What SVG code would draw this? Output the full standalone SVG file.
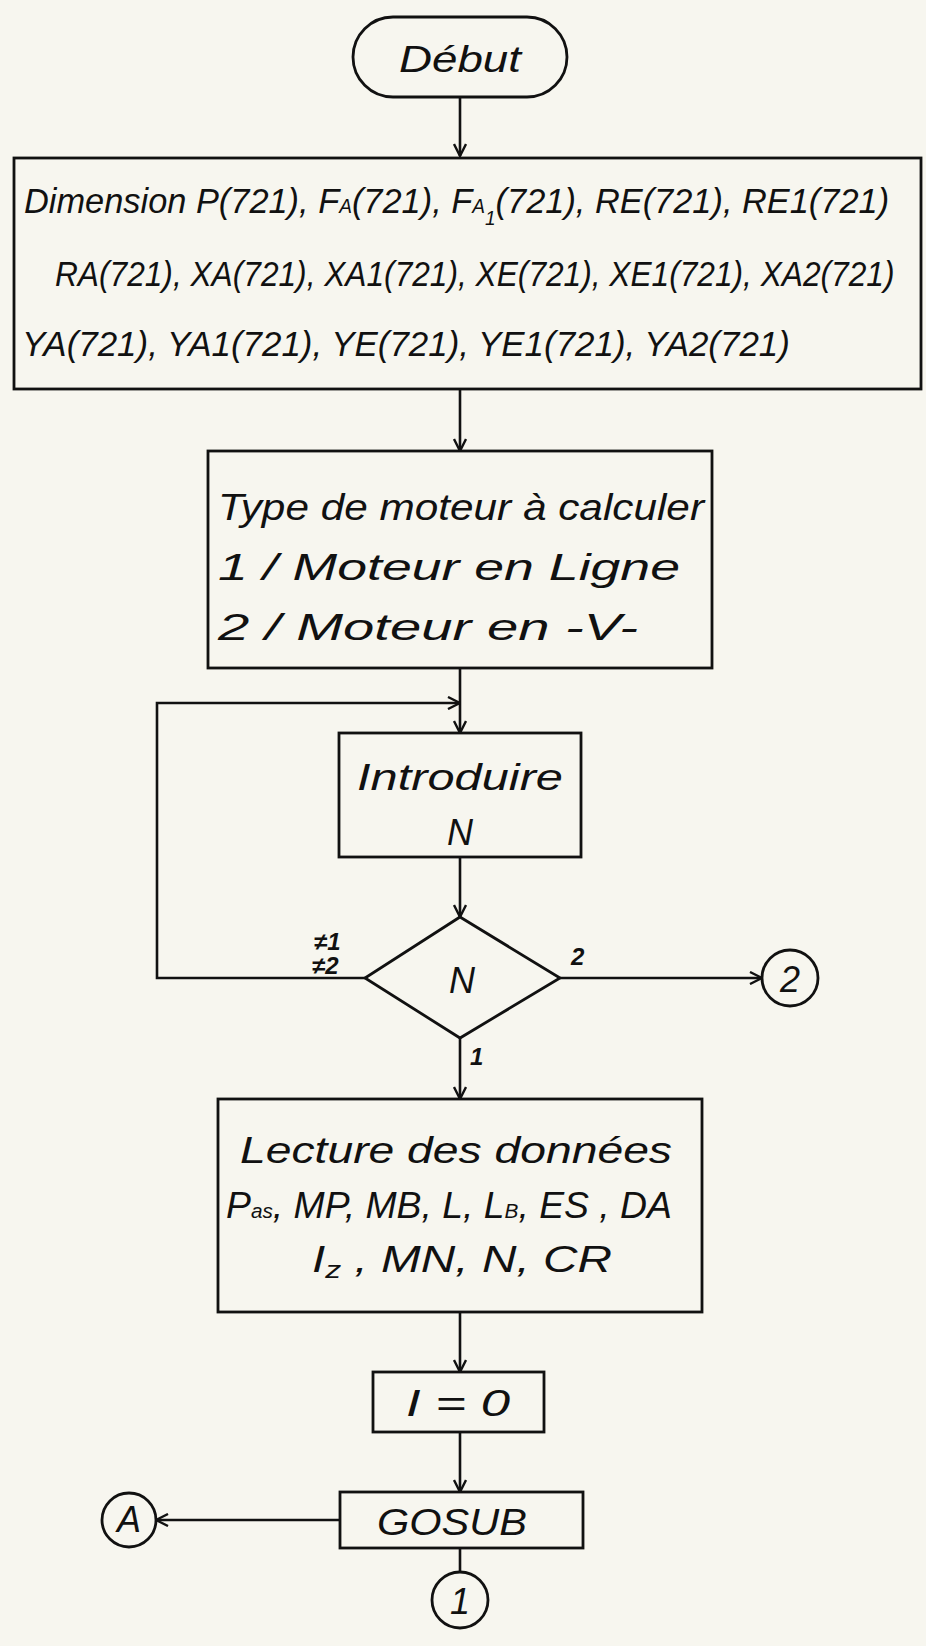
<svg xmlns="http://www.w3.org/2000/svg" width="926" height="1646" viewBox="0 0 926 1646">
<style>
.s{fill:none;stroke:#111;stroke-width:2.6}
.b{fill:none;stroke:#111;stroke-width:2.8}
.t{font-family:"Liberation Sans",Arial,sans-serif;font-style:italic;fill:#111;font-size:36px}
.c{text-anchor:middle}
.sub{font-size:20px}
.lbl{font-family:"Liberation Sans",Arial,sans-serif;font-style:italic;font-weight:bold;fill:#111;font-size:24px}
</style>
<defs>
<marker id="ah" viewBox="0 0 14 14" refX="13" refY="7" markerWidth="14" markerHeight="14" markerUnits="userSpaceOnUse" orient="auto">
<path d="M1,1 L13,7 L1,13" fill="none" stroke="#111" stroke-width="2.4"/>
</marker>
</defs>
<rect width="926" height="1646" fill="#f7f6ef"/>

<g id="connectors">
<line class="s" x1="460" y1="97" x2="460" y2="156" marker-end="url(#ah)"/>
<line class="s" x1="460" y1="388" x2="460" y2="451" marker-end="url(#ah)"/>
<line class="s" x1="460" y1="668" x2="460" y2="733" marker-end="url(#ah)"/>
<polyline class="s" points="365,978 157,978 157,703 460,703" marker-end="url(#ah)"/>
<line class="s" x1="460" y1="857" x2="460" y2="917" marker-end="url(#ah)"/>
<line class="s" x1="560" y1="978" x2="762" y2="978" marker-end="url(#ah)"/>
<line class="s" x1="460" y1="1038" x2="460" y2="1099" marker-end="url(#ah)"/>
<line class="s" x1="460" y1="1312" x2="460" y2="1372" marker-end="url(#ah)"/>
<line class="s" x1="460" y1="1432" x2="460" y2="1492" marker-end="url(#ah)"/>
<line class="s" x1="340" y1="1520" x2="156" y2="1520" marker-end="url(#ah)"/>
<line class="s" x1="460" y1="1548" x2="460" y2="1572"/>
<text class="lbl" x="571" y="965">2</text>
<text class="lbl" x="470" y="1065">1</text>
<text class="lbl" x="314" y="950" font-size="18">≠1</text>
<text class="lbl" x="312" y="974" font-size="18">≠2</text>
</g>

<g id="debut">
<rect class="b" x="353" y="17" width="214" height="80" rx="40" ry="40"/>
<text class="t c" x="460" y="72" font-size="40" textLength="122" lengthAdjust="spacingAndGlyphs">Début</text>
</g>

<g id="dimension">
<rect class="b" x="14" y="158" width="907" height="231"/>
<text class="t" transform="translate(24,213) scale(0.955,1)">Dimension  P(721), F<tspan class="sub">A</tspan>(721), F<tspan class="sub">A</tspan><tspan class="sub" font-size="16" baseline-shift="-12">1</tspan>(721), RE(721), RE1(721)</text>
<text class="t" font-size="34" transform="translate(55,286) scale(0.88,1)">RA(721), XA(721), XA1(721), XE(721), XE1(721), XA2(721)</text>
<text class="t" font-size="34" transform="translate(22,356) scale(0.97,1)">YA(721), YA1(721), YE(721), YE1(721), YA2(721)</text>
</g>

<g id="type">
<rect class="b" x="208" y="451" width="504" height="217"/>
<text class="t" x="218" y="520" font-size="40" textLength="486" lengthAdjust="spacingAndGlyphs">Type  de  moteur à calculer</text>
<text class="t" x="218" y="580" font-size="40" textLength="462" lengthAdjust="spacingAndGlyphs">1 /  Moteur  en  Ligne</text>
<text class="t" x="218" y="640" font-size="40" textLength="420" lengthAdjust="spacingAndGlyphs">2 /  Moteur   en  -V-</text>
</g>

<g id="introduire">
<rect class="b" x="339" y="733" width="242" height="124"/>
<text class="t c" x="460" y="790" font-size="38" textLength="206" lengthAdjust="spacingAndGlyphs">Introduire</text>
<text class="t c" x="460" y="845" font-size="40">N</text>
</g>

<g id="decision">
<polygon class="b" points="460,917 560,978 460,1038 365,978"/>
<text class="t c" x="462" y="993" font-size="40">N</text>
</g>

<g id="lecture">
<rect class="b" x="218" y="1099" width="484" height="213"/>
<text class="t" x="240" y="1163" font-size="40" textLength="432" lengthAdjust="spacingAndGlyphs">Lecture  des  données</text>
<text class="t" x="226" y="1218" font-size="40" textLength="446" lengthAdjust="spacingAndGlyphs">P<tspan class="sub" font-size="24">as</tspan>, MP, MB, L, L<tspan class="sub" font-size="24">B</tspan>, ES , DA</text>
<text class="t" x="312" y="1272" font-size="40" textLength="300" lengthAdjust="spacingAndGlyphs">I<tspan font-size="24" dy="6">z</tspan><tspan dy="-6"> , MN, N, CR</tspan></text>
</g>

<g id="init">
<rect class="b" x="373" y="1372" width="171" height="60"/>
<text class="t c" x="458" y="1416" font-size="40" textLength="104" lengthAdjust="spacingAndGlyphs">I = 0</text>
</g>

<g id="gosub">
<rect class="b" x="340" y="1492" width="243" height="56"/>
<text class="t c" x="452" y="1535" font-size="38" textLength="150" lengthAdjust="spacingAndGlyphs">GOSUB</text>
</g>

<g id="conn2">
<circle class="b" cx="790" cy="978" r="28"/>
<text class="t c" x="790" y="992" font-size="36">2</text>
</g>

<g id="connA">
<circle class="b" cx="129" cy="1520" r="27"/>
<text class="t c" x="129" y="1532" font-size="32">A</text>
</g>

<g id="conn1">
<circle class="b" cx="460" cy="1600" r="28"/>
<text class="t c" x="460" y="1614" font-size="36">1</text>
</g>
</svg>
